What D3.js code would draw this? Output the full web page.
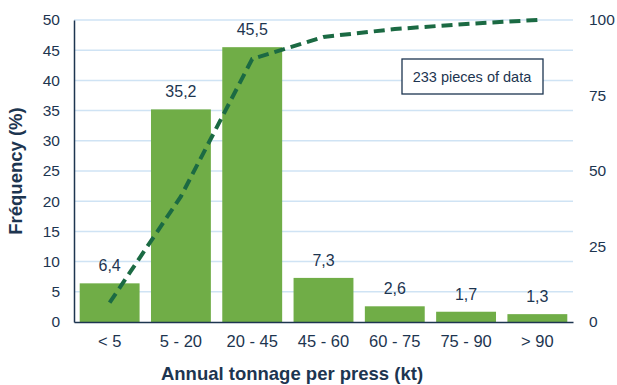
<!DOCTYPE html>
<html>
<head>
<meta charset="utf-8">
<script src="https://cdn.jsdelivr.net/npm/d3@7"></script>
<style>
  html, body { margin: 0; padding: 0; background: #ffffff; }
  svg { display: block; font-family: "Liberation Sans", Arial, sans-serif; }
</style>
</head>
<body>
<svg id="chart" width="617" height="385"></svg>
<script>
// Annual tonnage classes and their share of presses (%)
const categories = ["< 5", "5 - 20", "20 - 45", "45 - 60", "60 - 75", "75 - 90", "> 90"];
const frequency = [6.4, 35.2, 45.5, 7.3, 2.6, 1.7, 1.3];
const cumulative = [6.4, 41.6, 87.1, 94.4, 97.0, 98.7, 100];
const leftTicks = [0, 5, 10, 15, 20, 25, 30, 35, 40, 45, 50];
const rightTicks = [0, 25, 50, 75, 100];
const noteText = "233 pieces of data";

const textColor = "#1d3550";
const barColor = "#70ad47";
const lineColor = "#1b6a43";
const gridColor = "#cfe3f4";
const font = "Liberation Sans, Arial, sans-serif";

const svg = d3.select("#chart");
const plotLeft = 74, plotRight = 573, plotTop = 20, plotBottom = 322;

const x = d3.scaleBand().domain(categories).range([plotLeft, plotRight]).paddingInner(0.16).paddingOuter(0.08);
const xc = d3.scaleBand().domain(categories).range([plotLeft, plotRight]);
const y = d3.scaleLinear().domain([0, 50]).range([plotBottom, plotTop]);
const y2 = d3.scaleLinear().domain([0, 100]).range([plotBottom, plotTop]);

// horizontal gridlines
svg.append("g").selectAll("line").data(leftTicks.filter(d => d > 0)).join("line")
  .attr("x1", plotLeft).attr("x2", plotRight)
  .attr("y1", d => y(d)).attr("y2", d => y(d))
  .attr("stroke", gridColor).attr("stroke-width", 1.5);

// bars
svg.append("g").selectAll("rect").data(frequency).join("rect")
  .attr("x", (d, i) => x(categories[i]))
  .attr("width", x.bandwidth())
  .attr("y", d => y(d))
  .attr("height", d => y(0) - y(d))
  .attr("fill", barColor);

// value labels
svg.append("g").selectAll("text").data(frequency).join("text")
  .attr("x", (d, i) => x(categories[i]) + x.bandwidth() / 2)
  .attr("y", d => y(d) - 12)
  .attr("text-anchor", "middle")
  .attr("font-size", 16)
  .attr("fill", textColor)
  .text(d => d.toFixed(1).replace(".", ","));

// cumulative dashed line on the secondary axis
const line = d3.line()
  .x((d, i) => xc(categories[i]) + xc.bandwidth() / 2)
  .y(d => y2(d));
svg.append("path").datum(cumulative)
  .attr("d", line)
  .attr("fill", "none")
  .attr("stroke", lineColor)
  .attr("stroke-width", 4)
  .attr("stroke-dasharray", "11,6");

// left axis
const yAxis = svg.append("g").attr("transform", `translate(${plotLeft},0)`)
  .call(d3.axisLeft(y).tickValues(leftTicks).tickSize(0).tickPadding(14));
yAxis.select(".domain").attr("stroke", textColor).attr("stroke-width", 1.5);
yAxis.selectAll("text").attr("font-size", 15.5).attr("fill", textColor).attr("font-family", font);

// right axis
const y2Axis = svg.append("g").attr("transform", `translate(${plotRight},0)`)
  .call(d3.axisRight(y2).tickValues(rightTicks).tickSize(0).tickPadding(16));
y2Axis.select(".domain").remove();
y2Axis.selectAll("text").attr("font-size", 15.5).attr("fill", textColor).attr("font-family", font);

// bottom axis
const xAxis = svg.append("g").attr("transform", `translate(0,${plotBottom})`)
  .call(d3.axisBottom(xc).tickSize(0).tickPadding(13));
xAxis.select(".domain").attr("stroke", textColor).attr("stroke-width", 1.5);
xAxis.selectAll("text").attr("font-size", 16.5).attr("fill", textColor).attr("font-family", font);

// axis titles
svg.append("text")
  .attr("transform", `translate(22,${(plotTop + plotBottom) / 2}) rotate(-90)`)
  .attr("text-anchor", "middle")
  .attr("font-size", 18.5).attr("font-weight", "bold").attr("fill", textColor)
  .text("Fréquency (%)");
svg.append("text")
  .attr("x", 292).attr("y", 380)
  .attr("text-anchor", "middle")
  .attr("font-size", 18.5).attr("font-weight", "bold").attr("fill", textColor)
  .text("Annual tonnage per press (kt)");

// note box
const note = svg.append("g");
note.append("rect")
  .attr("x", 402).attr("y", 59).attr("width", 141).attr("height", 35)
  .attr("fill", "#ffffff").attr("stroke", textColor).attr("stroke-width", 1.3);
note.append("text")
  .attr("x", 472).attr("y", 82)
  .attr("text-anchor", "middle")
  .attr("font-size", 14.5).attr("fill", textColor)
  .text(noteText);
</script>
</body>
</html>
